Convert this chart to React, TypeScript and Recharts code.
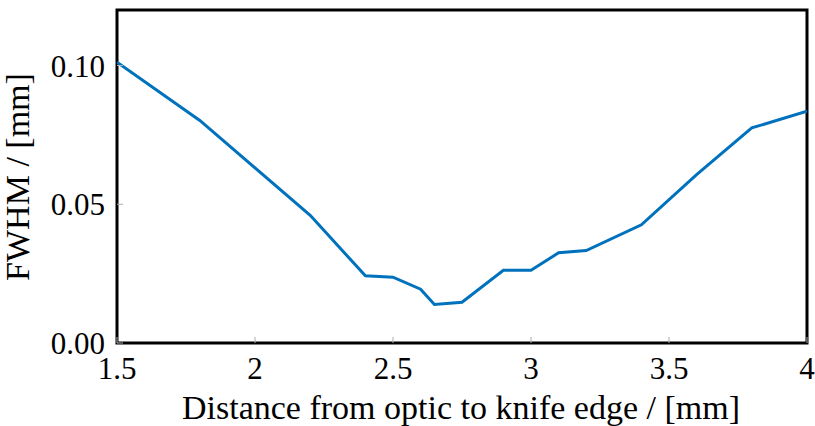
import { LineChart, Line, XAxis, YAxis, ReferenceArea } from "recharts";

// distance from optic to knife edge (mm) vs measured FWHM (mm)
const distance = [1.5, 1.8, 2.2, 2.4, 2.5, 2.6, 2.65, 2.75, 2.9, 3.0, 3.1, 3.2, 3.4, 3.6, 3.8, 4.0];
const fwhm = [0.1012, 0.0802, 0.046, 0.0242, 0.0237, 0.0194, 0.0139, 0.0147, 0.0262, 0.0262, 0.0325, 0.0333, 0.0426, 0.0607, 0.0775, 0.0835];

const xTicks = [1.5, 2, 2.5, 3, 3.5, 4];
const yTicks = [0, 0.05, 0.1];

const data = distance.map((d, i) => ({ d, f: fwhm[i] }));

const FONT = "'Liberation Serif', serif";
const tickStyle = { fill: "#000", fontFamily: FONT, fontSize: 31 };
const tickLine = { stroke: "#b0b0b0", strokeWidth: 1 };

function YLabel() {
  return (
    <text
      x={29}
      y={177}
      transform="rotate(-90 29 177)"
      textAnchor="middle"
      fontFamily={FONT}
      fontSize={34}
      fill="#000"
    >
      FWHM / [mm]
    </text>
  );
}

function XLabel() {
  return (
    <text x={461} y={419} textAnchor="middle" fontFamily={FONT} fontSize={34} fill="#000">
      Distance from optic to knife edge / [mm]
    </text>
  );
}

export default function App() {
  return (
    <div style={{ position: "absolute", left: 0, top: 0, background: "#fff" }}>
      <LineChart width={815} height={426} data={data} margin={{ top: 10, right: 8, left: 0, bottom: 0 }}>
        <XAxis
          dataKey="d"
          type="number"
          domain={[1.5, 4]}
          ticks={xTicks}
          tick={tickStyle}
          tickFormatter={(v: number) => String(v)}
          tickSize={-6}
          tickMargin={20}
          tickLine={tickLine}
          axisLine={false}
          height={83}
          allowDataOverflow
        />
        <XAxis
          xAxisId="top"
          orientation="top"
          dataKey="d"
          type="number"
          domain={[1.5, 4]}
          ticks={xTicks}
          tick={false}
          tickSize={-6}
          tickLine={tickLine}
          axisLine={false}
          height={0}
        />
        <YAxis
          type="number"
          domain={[0, 0.12]}
          ticks={yTicks}
          tick={tickStyle}
          tickFormatter={(v: number) => v.toFixed(2)}
          tickSize={-6}
          tickMargin={18}
          tickLine={tickLine}
          axisLine={false}
          width={117}
          allowDataOverflow
        />
        <YAxis
          yAxisId="right"
          orientation="right"
          type="number"
          domain={[0, 0.12]}
          ticks={yTicks}
          tick={false}
          tickSize={-6}
          tickLine={tickLine}
          axisLine={false}
          width={0}
        />
        <Line
          type="linear"
          dataKey="f"
          stroke="#0072BD"
          strokeWidth={3}
          dot={false}
          isAnimationActive={false}
        />
        <ReferenceArea x1={1.5} x2={4} y1={0} y2={0.12} fill="none" stroke="#000" strokeWidth={3} ifOverflow="visible" />
        <YLabel />
        <XLabel />
      </LineChart>
    </div>
  );
}
